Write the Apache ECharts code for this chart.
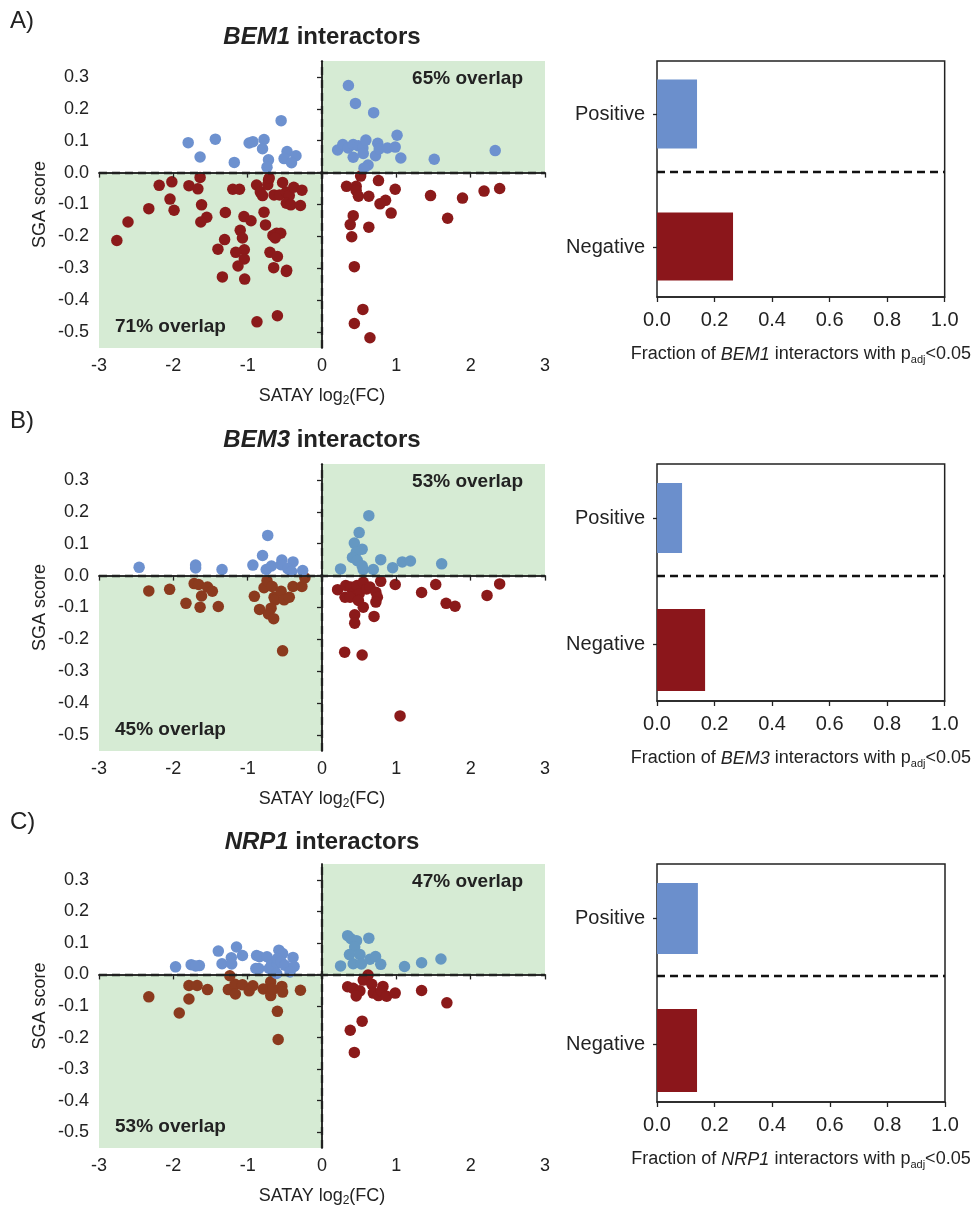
<!DOCTYPE html>
<html><head><meta charset="utf-8">
<script src="https://cdn.jsdelivr.net/npm/echarts@6/dist/echarts.min.js"></script>
<style>html,body{margin:0;padding:0;background:#fff}#c{width:973px;height:1208px}</style>
</head><body><div id="c"></div>
<script>
// ---------------- DATA ----------------
const genes = ['BEM1', 'BEM3', 'NRP1'];
const panelLetters = ['A)', 'B)', 'C)'];
const overlapUpperRight = ['65% overlap', '53% overlap', '47% overlap'];
const overlapLowerLeft = ['71% overlap', '45% overlap', '53% overlap'];
const barCategories = ['Negative', 'Positive'];
const bem1Fraction = [0.264, 0.139];
const bem3Fraction = [0.167, 0.087];
const nrp1Fraction = [0.139, 0.142];
const xTicks = [-3, -2, -1, 0, 1, 2, 3];
const yTicks = [-0.5, -0.4, -0.3, -0.2, -0.1, 0.0, 0.1, 0.2, 0.3];
const fracTicks = [0, 0.2, 0.4, 0.6, 0.8, 1.0];

const bem1Positive = [
[-0.55,0.163],[-1.80,0.094],[-1.435,0.105],[-1.64,0.049],[-1.18,0.032],[-0.98,0.093],[-0.93,0.097],[-0.78,0.104],[-0.80,0.075],[-0.72,0.040],[-0.74,0.017],[-0.47,0.066],[-0.51,0.044],[-0.35,0.053],[-0.41,0.031],
[0.355,0.273],[0.45,0.217],[0.695,0.188],[1.01,0.117],[0.21,0.071],[0.28,0.088],[0.35,0.077],[0.42,0.088],[0.42,0.048],[0.49,0.084],[0.55,0.077],[0.59,0.102],[0.555,0.060],[0.75,0.092],[0.72,0.053],[0.77,0.074],[0.88,0.077],[0.985,0.080],[1.06,0.046],[0.62,0.024],[0.565,0.014],[1.51,0.042],[2.33,0.069]
];
const bem1Negative = [
[-2.76,-0.213],[-2.61,-0.155],[-2.33,-0.113],[-2.19,-0.040],[-2.02,-0.029],[-2.045,-0.083],[-1.99,-0.118],[-1.79,-0.041],[-1.64,-0.015],[-1.67,-0.051],[-1.62,-0.101],[-1.55,-0.140],[-1.63,-0.155],[-1.30,-0.125],[-1.20,-0.052],[-1.11,-0.052],[-1.31,-0.210],[-1.40,-0.240],[-1.05,-0.138],[-0.955,-0.151],[-1.10,-0.181],[-1.07,-0.205],[-1.045,-0.242],[-1.16,-0.250],[-1.045,-0.271],[-1.13,-0.293],[-1.34,-0.327],[-1.04,-0.334],[-0.88,-0.039],[-0.83,-0.061],[-0.80,-0.072],[-0.78,-0.124],[-0.76,-0.164],[-0.72,-0.023],[-0.73,-0.038],[-0.71,-0.017],[-0.66,-0.197],[-0.61,-0.190],[-0.555,-0.190],[-0.63,-0.205],[-0.70,-0.250],[-0.60,-0.263],[-0.65,-0.298],[-0.475,-0.306],[-0.48,-0.310],[-0.645,-0.070],[-0.57,-0.070],[-0.53,-0.031],[-0.48,-0.061],[-0.44,-0.072],[-0.38,-0.046],[-0.27,-0.055],[-0.48,-0.096],[-0.42,-0.101],[-0.29,-0.103],[-0.875,-0.468],[-0.60,-0.449],
[0.52,-0.011],[0.33,-0.043],[0.46,-0.043],[0.46,-0.056],[0.49,-0.074],[0.63,-0.074],[0.76,-0.025],[0.985,-0.052],[0.855,-0.087],[0.78,-0.098],[0.93,-0.127],[0.42,-0.135],[0.38,-0.163],[0.63,-0.171],[0.40,-0.201],[1.46,-0.072],[1.69,-0.143],[1.89,-0.080],[2.18,-0.058],[2.39,-0.050],[0.435,-0.295],[0.55,-0.429],[0.435,-0.473],[0.645,-0.518]
];
const bem3Positive = [
[-2.46,0.026],[-1.70,0.033],[-1.70,0.024],[-1.345,0.019],[-0.73,0.126],[-0.80,0.063],[-0.93,0.033],[-0.75,0.019],[-0.68,0.030],[-0.54,0.049],[-0.55,0.034],[-0.39,0.043],[-0.46,0.022],[-0.41,0.013],[-0.26,0.016],
[0.63,0.188],[0.50,0.135],[0.435,0.102],[0.54,0.083],[0.46,0.073],[0.41,0.057],[0.475,0.047],[0.54,0.031],[0.555,0.019],[0.25,0.021],[0.69,0.019],[0.79,0.050],[0.95,0.025],[1.08,0.043],[1.19,0.046],[1.61,0.037]
];
const bem3Negative = [
[-2.33,-0.048],[-2.05,-0.043],[-1.83,-0.087],[-1.72,-0.025],[-1.66,-0.028],[-1.62,-0.064],[-1.64,-0.099],[-1.54,-0.036],[-1.475,-0.049],[-1.395,-0.097],[-0.91,-0.065],[-0.84,-0.106],[-0.78,-0.038],[-0.74,-0.016],[-0.67,-0.034],[-0.645,-0.068],[-0.63,-0.076],[-0.685,-0.102],[-0.72,-0.120],[-0.65,-0.135],[-0.55,-0.049],[-0.51,-0.076],[-0.44,-0.068],[-0.39,-0.034],[-0.27,-0.034],[-0.23,-0.007],[-0.53,-0.236],
[0.21,-0.044],[0.32,-0.031],[0.31,-0.068],[0.385,-0.036],[0.43,-0.052],[0.47,-0.031],[0.50,-0.057],[0.555,-0.021],[0.60,-0.042],[0.645,-0.036],[0.377,-0.068],[0.49,-0.078],[0.555,-0.099],[0.725,-0.052],[0.745,-0.068],[0.725,-0.083],[0.79,-0.018],[0.985,-0.028],[0.44,-0.123],[0.44,-0.149],[0.70,-0.128],[1.34,-0.053],[1.53,-0.028],[1.67,-0.087],[1.79,-0.096],[2.22,-0.062],[2.39,-0.026],[0.305,-0.240],[0.54,-0.249],[1.05,-0.440]
];
const nrp1Positive = [
[-1.97,0.024],[-1.76,0.031],[-1.65,0.028],[-1.70,0.027],[-1.395,0.074],[-1.345,0.034],[-1.22,0.053],[-1.215,0.033],[-1.15,0.087],[-1.07,0.060],[-0.88,0.060],[-0.84,0.056],[-0.74,0.056],[-0.89,0.019],[-0.85,0.019],[-0.71,0.019],[-0.68,0.031],[-0.605,0.034],[-0.58,0.077],[-0.53,0.066],[-0.60,0.050],[-0.55,0.040],[-0.50,0.029],[-0.39,0.054],[-0.375,0.025],[-0.43,0.008],[-0.61,0.003],
[0.345,0.123],[0.39,0.113],[0.465,0.107],[0.63,0.115],[0.44,0.087],[0.37,0.063],[0.51,0.063],[0.25,0.027],[0.42,0.034],[0.53,0.033],[0.645,0.048],[0.72,0.057],[0.79,0.032],[1.11,0.025],[1.34,0.037],[1.60,0.049]
];
const nrp1Negative = [
[-2.33,-0.071],[-1.92,-0.122],[-1.79,-0.035],[-1.68,-0.035],[-1.79,-0.078],[-1.54,-0.048],[-1.26,-0.048],[-1.17,-0.031],[-1.165,-0.062],[-1.07,-0.033],[-0.98,-0.052],[-0.93,-0.036],[-0.79,-0.046],[-0.69,-0.023],[-0.69,-0.067],[-0.66,-0.047],[-0.54,-0.038],[-0.53,-0.056],[-0.60,-0.117],[-0.59,-0.206],[-0.29,-0.050],[-1.24,-0.004],
[0.62,-0.002],[0.555,-0.018],[0.345,-0.039],[0.42,-0.044],[0.51,-0.052],[0.46,-0.068],[0.67,-0.031],[0.69,-0.059],[0.76,-0.067],[0.82,-0.038],[0.80,-0.052],[0.87,-0.069],[0.985,-0.059],[1.34,-0.051],[1.68,-0.090],[0.54,-0.148],[0.38,-0.177],[0.435,-0.247]
];

// ---------------- STYLE / LAYOUT ----------------
const FONT = '"Liberation Sans", Arial, Helvetica, sans-serif';
const INK = '#222';
const GREEN = '#d6ebd4';
const X_MIN = -3, X_MAX = 3, Y_MIN = -0.55, Y_MAX = 0.35;
const DIVIDER = 0.53; // height fraction of dashed separator in bar panel
const panelData = [
  {pos: bem1Positive, neg: bem1Negative, frac: bem1Fraction,
   colors: {posL:'#6d91cf', posR:'#6d91cf', negL:'#8b1a1a', negR:'#8b1a1a'}, dash:'#111'},
  {pos: bem3Positive, neg: bem3Negative, frac: bem3Fraction,
   colors: {posL:'#6d91cf', posR:'#6598c2', negL:'#8b3a1e', negR:'#8b1a1a'}, dash:'#1c2b1c'},
  {pos: nrp1Positive, neg: nrp1Negative, frac: nrp1Fraction,
   colors: {posL:'#6d91cf', posR:'#6598c2', negL:'#8b3a1e', negR:'#8b1a1a'}, dash:'#1c2b1c'}
];
const layout = [
  {top: 61, letterY: 22, titleY: 37, barTop: 47.5, barBottomPx: 313.5, frameBottomPx: 297, posW: 69, negW: 68},
  {top: 464, letterY: 422, titleY: 440, barTop: 455, barBottomPx: 707, frameBottomPx: 701, posW: 70, negW: 82},
  {top: 864, letterY: 823, titleY: 842, barTop: 855.5, barBottomPx: 1107.5, frameBottomPx: 1102, posW: 71, negW: 83}
];
const SC_LEFT = 99, SC_W = 446, SC_H = 287;
const BAR_LEFT = 657, BAR_W = 288;

const grid = [], xAxis = [], yAxis = [], series = [], graphic = [];
const fmt1 = v => (Math.abs(v) < 1e-9 ? 0 : v).toFixed(1);
const tickStyle = {show: true, inside: false, length: 5, lineStyle: {color: INK, width: 1.3}};
const labelStyle = (fs) => ({color: INK, fontSize: fs, fontFamily: FONT});

panelData.forEach((p, i) => {
  const L = layout[i];
  // ---- scatter grid ----
  const gS = grid.length;
  grid.push({left: SC_LEFT, top: L.top, width: SC_W, height: SC_H, show: false});
  const xS = xAxis.length;
  xAxis.push({gridIndex: gS, type: 'value', min: X_MIN, max: X_MAX, interval: 1, position: 'bottom',
    axisLine: {show: true, lineStyle: {color: INK, width: 1.5}}, axisTick: tickStyle, splitLine: {show: false},
    axisLabel: Object.assign(labelStyle(18), {margin: 9, formatter: v => String(v)}),
    name: '{t|SATAY log}{s|2}{t|(FC)}', nameLocation: 'middle', nameGap: 37,
    nameTextStyle: {rich: {t: labelStyle(18), s: {color: INK, fontSize: 12, fontFamily: FONT, padding: [10, 0, 0, 0]}}}, z: 10});
  xAxis.push({gridIndex: gS, type: 'value', min: X_MIN, max: X_MAX, position: 'top',
    axisLine: {show: true, lineStyle: {color: INK, width: 1.5}}, axisTick: {show: false}, axisLabel: {show: false}, splitLine: {show: false}, z: 10});
  const yS = yAxis.length;
  yAxis.push({gridIndex: gS, type: 'value', min: Y_MIN, max: Y_MAX, position: 'left',
    axisLine: {show: true, lineStyle: {color: INK, width: 1.5}},
    axisTick: Object.assign({}, tickStyle, {customValues: yTicks}), splitLine: {show: false},
    axisLabel: Object.assign(labelStyle(18), {margin: 10, customValues: yTicks, formatter: fmt1}),
    name: 'SGA score', nameLocation: 'middle', nameGap: 50, nameRotate: 90,
    nameTextStyle: labelStyle(18), z: 10});
  yAxis.push({gridIndex: gS, type: 'value', min: Y_MIN, max: Y_MAX, position: 'right',
    axisLine: {show: true, lineStyle: {color: INK, width: 1.5}}, axisTick: {show: false}, axisLabel: {show: false}, splitLine: {show: false}, z: 10});

  const c = p.colors;
  const ovLabel = (pos, off) => ({show: true, position: pos, formatter: '{b}', color: INK, fontSize: 19, fontWeight: 'bold', fontFamily: FONT, distance: 12, offset: off});
  series.push({type: 'scatter', xAxisIndex: xS, yAxisIndex: yS, data: p.neg, symbolSize: 11.5, z: 3,
    itemStyle: {opacity: 1, color: d => d.value[0] < 0 ? c.negL : c.negR},
    markArea: {silent: true, itemStyle: {color: GREEN}, data: [
      [{name: overlapLowerLeft[i], coord: [X_MIN, Y_MIN], label: ovLabel('insideBottomLeft', [4, 0])}, {coord: [0, 0]}],
      [{name: overlapUpperRight[i], coord: [0, 0], label: ovLabel('insideTopRight', [-10, -4])}, {coord: [X_MAX, Y_MAX]}]
    ]}
  });
  series.push({type: 'scatter', xAxisIndex: xS, yAxisIndex: yS, data: p.pos, symbolSize: 11.5, z: 3,
    itemStyle: {opacity: 1, color: d => d.value[0] < 0 ? c.posL : c.posR},
    markLine: {silent: true, symbol: ['none', 'none'], label: {show: false},
      lineStyle: {color: p.dash, width: 2.3, type: [8, 5]}, data: [{xAxis: 0}, {yAxis: 0}]}
  });

  // ---- bar grid (bars + category labels) ----
  const gB = grid.length;
  grid.push({left: BAR_LEFT, top: L.barTop, width: BAR_W, height: L.barBottomPx - L.barTop, show: false});
  const xB = xAxis.length;
  xAxis.push({gridIndex: gB, type: 'value', min: 0, max: 1, show: false});
  const yB = yAxis.length;
  yAxis.push({gridIndex: gB, type: 'category', data: barCategories,
    axisLine: {show: false}, axisTick: {show: true, alignWithLabel: true, length: 4, lineStyle: {color: INK, width: 1.3}},
    axisLabel: Object.assign(labelStyle(20), {margin: 12})});
  series.push({type: 'bar', xAxisIndex: xB, yAxisIndex: yB, barWidth: L.negW, barGap: '-100%',
    data: [p.frac[0], '-'], itemStyle: {color: '#8b161b'}, z: 2});
  series.push({type: 'bar', xAxisIndex: xB, yAxisIndex: yB, barWidth: L.posW, barGap: '-100%',
    data: ['-', p.frac[1]], itemStyle: {color: '#6b8fcc'}, z: 2});

  // ---- bar frame grid ----
  const gF = grid.length;
  grid.push({left: BAR_LEFT, top: L.top, width: BAR_W, height: L.frameBottomPx - L.top,
    show: true, borderColor: INK, borderWidth: 1.5, backgroundColor: 'transparent'});
  const xF = xAxis.length;
  xAxis.push({gridIndex: gF, type: 'value', min: 0, max: 1, interval: 0.2,
    axisLine: {show: true, lineStyle: {color: INK, width: 1.5}}, axisTick: tickStyle, splitLine: {show: false},
    axisLabel: Object.assign(labelStyle(20), {margin: 13, formatter: fmt1}),
    name: '{t|Fraction of }{ti|' + genes[i] + '}{t| interactors with p}{s|adj}{t|<0.05}',
    nameLocation: 'middle', nameGap: 47,
    nameTextStyle: {rich: {t: labelStyle(18), ti: Object.assign(labelStyle(18), {fontStyle: 'italic'}),
      s: {color: INK, fontSize: 11, fontFamily: FONT, padding: [10, 0, 0, 0]}}}, z: 10});
  const yF = yAxis.length;
  yAxis.push({gridIndex: gF, type: 'value', min: 0, max: 1, show: false});
  series.push({type: 'line', xAxisIndex: xF, yAxisIndex: yF, data: [], silent: true,
    markLine: {silent: true, symbol: ['none', 'none'], label: {show: false},
      lineStyle: {color: '#111', width: 2.3, type: [8, 5]}, data: [{yAxis: DIVIDER}]}});

  // ---- texts ----
  graphic.push({type: 'text', left: 10, top: L.letterY - 13,
    style: {text: panelLetters[i], fill: INK, font: '24px ' + FONT}});
  graphic.push({type: 'text', x: SC_LEFT + SC_W / 2, y: L.titleY,
    style: {text: '{bi|' + genes[i] + '}{b| interactors}', align: 'center', verticalAlign: 'middle',
      rich: {bi: {fill: INK, fontSize: 24, fontWeight: 'bold', fontStyle: 'italic', fontFamily: FONT},
             b: {fill: INK, fontSize: 24, fontWeight: 'bold', fontFamily: FONT}}}});
});

const chart = echarts.init(document.getElementById('c'), null, {renderer: 'canvas'});
chart.setOption({animation: false, backgroundColor: '#fff', grid, xAxis, yAxis, series, graphic});
</script></body></html>
